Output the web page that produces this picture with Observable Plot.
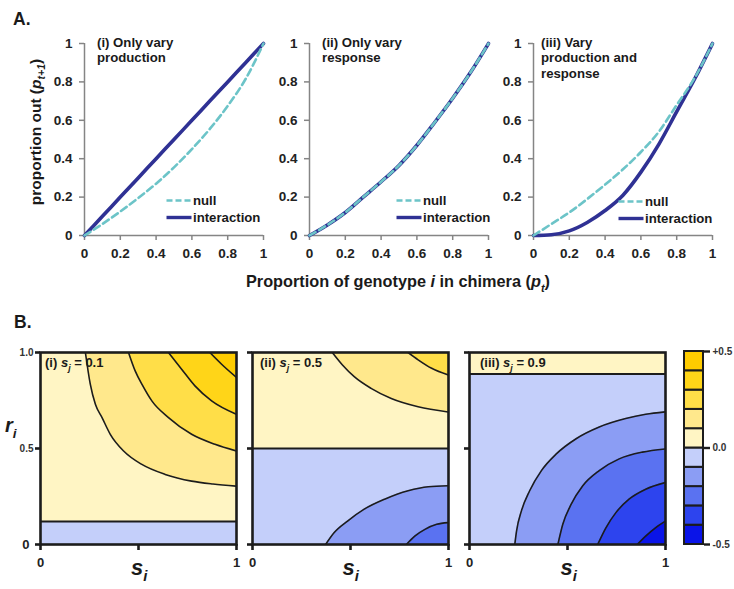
<!DOCTYPE html>
<html>
<head>
<meta charset="utf-8">
<script src="https://cdn.jsdelivr.net/npm/d3@7"></script>
<script src="https://cdn.jsdelivr.net/npm/@observablehq/plot@0.6"></script>
<style>
  body { margin: 0; background: #fff; }
  #fig { position: relative; width: 734px; height: 589px; overflow: hidden; background: #fff;
         font-family: "Liberation Sans", Arial, sans-serif; }
</style>
</head>
<body>
<div id="fig"></div>
<script>
// ---------- Panel A: proportion out vs. proportion in ----------
const pIn = [0, 0.1, 0.2, 0.3, 0.4, 0.5, 0.6, 0.7, 0.8, 0.9, 1];
const nullI = [0, 0.06, 0.125, 0.195, 0.27, 0.355, 0.45, 0.555, 0.675, 0.815, 1];
const interactionI = [0, 0.1, 0.2, 0.3, 0.4, 0.5, 0.6, 0.7, 0.8, 0.9, 1];
const nullII = [0, 0.055, 0.12, 0.2, 0.28, 0.365, 0.47, 0.59, 0.715, 0.85, 1];
const interactionII = [0, 0.055, 0.12, 0.2, 0.28, 0.365, 0.47, 0.59, 0.715, 0.85, 1];
const nullIII = [0, 0.06, 0.12, 0.19, 0.265, 0.345, 0.435, 0.54, 0.68, 0.82, 1];
const interactionIII = [0, 0.004, 0.024, 0.068, 0.13, 0.21, 0.33, 0.475, 0.645, 0.815, 1];
const aTicks = [0, 0.2, 0.4, 0.6, 0.8, 1];
const aTitles = [["(i) Only vary", "production"], ["(ii) Only vary", "response"], ["(iii) Vary", "production and", "response"]];
const legendLabels = ["null", "interaction"];

// ---------- Panel B: interaction effect over (s_i, r_i) ----------
const sjValues = ["0.1", "0.5", "0.9"];
const panelNumerals = ["(i) ", "(ii) ", "(iii) "];
const bTicks = [0, 0.5, 1];
const zeroI = 0.12, zeroII = 0.5, zeroIII = 0.888;
// contour lines as [s_i, r_i] points
const contourI_p1 = [[0.229,1],[0.254,0.835],[0.280,0.73],[0.314,0.661],[0.356,0.574],[0.424,0.487],[0.517,0.417],[0.636,0.365],[0.771,0.330],[0.88,0.315],[1,0.304]];
const contourI_p2 = [[0.449,1],[0.483,0.904],[0.520,0.830],[0.568,0.748],[0.653,0.661],[0.771,0.574],[0.890,0.522],[1,0.487]];
const contourI_p3 = [[0.653,1],[0.720,0.913],[0.788,0.826],[0.873,0.748],[1,0.678]];
const contourI_p4 = [[0.864,1],[0.924,0.939],[1,0.87]];
const contourII_p1 = [[0.407,1],[0.459,0.935],[0.519,0.874],[0.605,0.813],[0.708,0.76],[0.845,0.717],[1,0.69]];
const contourII_p2 = [[0.794,1],[0.845,0.962],[0.914,0.918],[1,0.883]];
const contourII_m1 = [[0.373,0],[0.416,0.061],[0.485,0.122],[0.57,0.184],[0.674,0.236],[0.794,0.28],[0.897,0.301],[1,0.306]];
const contourII_m2 = [[0.785,0],[0.828,0.044],[0.88,0.079],[0.94,0.105],[1,0.114]];
const contourIII_m1 = [[0.231,0],[0.24,0.07],[0.265,0.175],[0.307,0.28],[0.367,0.385],[0.443,0.472],[0.544,0.551],[0.662,0.612],[0.797,0.656],[0.899,0.678],[1,0.691]];
const contourIII_m2 = [[0.451,0],[0.476,0.105],[0.519,0.21],[0.578,0.306],[0.662,0.385],[0.764,0.446],[0.882,0.481],[1,0.498]];
const contourIII_m3 = [[0.654,0],[0.696,0.087],[0.747,0.166],[0.814,0.236],[0.899,0.288],[1,0.323]];
const contourIII_m4 = [[0.856,0],[0.899,0.044],[0.949,0.087],[1,0.122]];

// colour levels (bands of 0.1 from -0.5 to +0.5)
const levelBreaks = [-0.5, -0.4, -0.3, -0.2, -0.1, 0, 0.1, 0.2, 0.3, 0.4, 0.5];
const levelThresholds = [-0.4, -0.3, -0.2, -0.1, 0, 0.1, 0.2, 0.3, 0.4];
const levelColors = ["#0a14e8", "#2d44ee", "#5a72f1", "#8b9df4", "#c4cffa",
                     "#fff5c4", "#ffe88c", "#ffde48", "#ffd518", "#ffcc00"];
const colorbarLabels = ["-0.5", "0.0", "+0.5"];

// ---------- layout ----------
const FONT = "'Liberation Sans', Arial, sans-serif";
const INTER = "#2f3194", NULLC = "#6cc4c8", AXISGRAY = "#858585", INK = "#1c1c1c";
const colorScale = {type: "threshold", domain: levelThresholds, range: levelColors};
const fig = document.getElementById("fig");
function place(node, left, top) {
  node.style.position = "absolute";
  node.style.left = left + "px";
  node.style.top = top + "px";
  fig.appendChild(node);
}
const baseStyle = {background: "transparent", overflow: "visible", fontFamily: FONT, fontWeight: "bold", color: "#222"};

function linePanel(nullVals, interVals) {
  const mL = 45, mR = 12, mT = 10, mB = 28, w = 179, h = 192;
  const rows = pIn.map((p, i) => ({p, nul: nullVals[i], inter: interVals[i]}));
  return Plot.plot({
    width: mL + w + mR, height: mT + h + mB,
    marginLeft: mL, marginRight: mR, marginTop: mT, marginBottom: mB,
    style: baseStyle,
    x: {domain: [0, 1]}, y: {domain: [0, 1]},
    marks: [
      Plot.axisX(aTicks, {tickSize: 5, tickPadding: 8, stroke: AXISGRAY, strokeWidth: 1.5, fontSize: 13.5, fontWeight: "bold", tickFormat: d => String(d), label: null}),
      Plot.axisY(aTicks, {tickSize: 5, tickPadding: 7, stroke: AXISGRAY, strokeWidth: 1.5, fontSize: 13.5, fontWeight: "bold", tickFormat: d => String(d), label: null}),
      Plot.ruleX([0], {stroke: AXISGRAY, strokeWidth: 1.5}),
      Plot.ruleY([0], {stroke: AXISGRAY, strokeWidth: 1.5}),
      Plot.line(rows, {x: "p", y: "inter", stroke: INTER, strokeWidth: 3.6, curve: "monotone-x"}),
      Plot.line(rows, {x: "p", y: "nul", stroke: NULLC, strokeWidth: 2.6, strokeDasharray: "7,4", curve: "monotone-x"})
    ]
  });
}

const aLefts = [84, 309, 533];
const aSeries = [[nullI, interactionI], [nullII, interactionII], [nullIII, interactionIII]];
aSeries.forEach(([n, it], i) => place(linePanel(n, it), aLefts[i] - 45, 43 - 10));

function contourPanel(p, showLabels) {
  const mL = 30, mR = 8, mT = 8, mB = 30, w = 196, h = 192;
  const sDomain = [0, 1], rDomain = [0, 1];
  const bands = [
    {x1: sDomain[0], x2: sDomain[1], y1: rDomain[0], y2: p.zero, v: -0.05},
    {x1: sDomain[0], x2: sDomain[1], y1: p.zero, y2: rDomain[1], v: 0.05}
  ];
  const marks = [Plot.rect(bands, {x1: "x1", x2: "x2", y1: "y1", y2: "y2", fill: "v"})];
  for (const [pts, level] of p.above)
    marks.push(Plot.areaY(pts, {x: d => d[0], y1: d => d[1], y2: rDomain[1], fill: () => level + 0.05, curve: "monotone-x", clip: true}));
  for (const [pts, level] of p.below)
    marks.push(Plot.areaY(pts, {x: d => d[0], y1: rDomain[0], y2: d => d[1], fill: () => level - 0.05, curve: "monotone-x", clip: true}));
  for (const [pts] of [...p.above, ...p.below])
    marks.push(Plot.line(pts, {x: d => d[0], y: d => d[1], stroke: INK, strokeWidth: 1.6, curve: "monotone-x", clip: true}));
  marks.push(Plot.ruleY([p.zero], {stroke: INK, strokeWidth: 2}));
  marks.push(Plot.frame({stroke: INK, strokeWidth: 2.6}));
  marks.push(Plot.axisX(bTicks, {tickSize: 6, tickPadding: 7, stroke: INK, strokeWidth: 2.6, fontSize: 13, fontWeight: "bold", fill: "#222",
    tickFormat: d => d === 0.5 ? "" : String(d), label: null}));
  if (showLabels) {
    marks.push(Plot.axisY([0.5, 1], {tickSize: 5, tickPadding: 2, stroke: INK, strokeWidth: 2.6, fontSize: 10, fontWeight: "bold", fill: "#333",
      tickFormat: d => d.toFixed(1), label: null}));
    marks.push(Plot.axisY([0], {tickSize: 5, tickPadding: 6, stroke: INK, strokeWidth: 2.6, fontSize: 13, fontWeight: "bold", fill: "#222",
      tickFormat: d => String(d), label: null}));
  } else {
    marks.push(Plot.axisY(bTicks, {tickSize: 5, stroke: INK, strokeWidth: 2.6, tickFormat: () => "", label: null}));
  }
  return Plot.plot({
    width: mL + w + mR, height: mT + h + mB,
    marginLeft: mL, marginRight: mR, marginTop: mT, marginBottom: mB,
    style: baseStyle,
    x: {domain: sDomain}, y: {domain: rDomain},
    color: colorScale,
    marks
  });
}

const bPanels = [
  {zero: zeroI, above: [[contourI_p1, 0.1], [contourI_p2, 0.2], [contourI_p3, 0.3], [contourI_p4, 0.4]], below: []},
  {zero: zeroII, above: [[contourII_p1, 0.1], [contourII_p2, 0.2]], below: [[contourII_m1, -0.1], [contourII_m2, -0.2]]},
  {zero: zeroIII, above: [], below: [[contourIII_m1, -0.1], [contourIII_m2, -0.2], [contourIII_m3, -0.3], [contourIII_m4, -0.4]]}
];
const bLefts = [40, 252, 469];
bPanels.forEach((p, i) => place(contourPanel(p, i === 0), bLefts[i] - 30, 352 - 8));

// colour bar
(function () {
  const mL = 4, mR = 30, mT = 8, mB = 8;
  const cells = levelBreaks.slice(0, -1).map((lo, i) => ({lo, hi: levelBreaks[i + 1], mid: (lo + levelBreaks[i + 1]) / 2}));
  const bar = Plot.plot({
    width: mL + 19 + mR, height: mT + 193 + mB,
    marginLeft: mL, marginRight: mR, marginTop: mT, marginBottom: mB,
    style: baseStyle,
    x: {domain: [0, 1], axis: null}, y: {domain: [-0.5, 0.5]},
    color: colorScale,
    marks: [
      Plot.rect(cells, {x1: 0, x2: 1, y1: "lo", y2: "hi", fill: "mid", stroke: INK, strokeWidth: 2}),
      Plot.axisY([-0.5, 0, 0.5], {anchor: "right", tickSize: 6, tickPadding: 3, stroke: INK, strokeWidth: 2.4, fontSize: 10, fontWeight: "bold", fill: "#333",
        tickFormat: (d, i) => colorbarLabels[i], label: null})
    ]
  });
  place(bar, 684 - mL, 351 - mT);
})();

// ---------- text layer ----------
const overlay = d3.create("svg").attr("width", 734).attr("height", 589)
  .attr("font-family", FONT).style("position", "absolute").style("left", "0px").style("top", "0px")
  .style("pointer-events", "none");

function richText(x, y, segs, opt = {}) {
  const size = opt.size || 13;
  const t = overlay.append("text").attr("x", x).attr("y", y)
    .attr("font-size", size).attr("font-weight", "bold").attr("fill", opt.fill || "#1a1a1a")
    .attr("text-anchor", opt.anchor || "start");
  if (opt.transform) t.attr("transform", opt.transform);
  let shift = 0;
  for (const s of segs) {
    const ts = t.append("tspan").text(s.t);
    const want = s.sub ? size * 0.28 : 0;
    if (want !== shift) { ts.attr("dy", want - shift); shift = want; }
    if (s.sub) ts.attr("font-size", size * 0.68);
    if (s.it) ts.attr("font-style", "italic");
  }
  return t;
}

richText(13, 25, [{t: "A."}], {size: 17.5});
richText(14, 328, [{t: "B."}], {size: 17.5});

richText(0, 0, [{t: "proportion out ("}, {t: "p", it: true}, {t: "t+1", it: true, sub: true}, {t: ")"}],
  {size: 15.5, anchor: "middle", transform: "translate(41,132) rotate(-90)"});
richText(398, 287, [{t: "Proportion of genotype "}, {t: "i", it: true}, {t: " in chimera ("}, {t: "p", it: true}, {t: "t", it: true, sub: true}, {t: ")"}],
  {size: 16.3, anchor: "middle"});

const titleX = [97, 322, 541];
aTitles.forEach((lines, i) => lines.forEach((ln, j) => richText(titleX[i], 47 + j * 15.3, [{t: ln}], {size: 13.2})));

const legendX = [166.5, 396.5, 618.5];
const legendY = [[200.5, 217.5], [200.5, 217.5], [201.5, 218.5]];
legendX.forEach((lx, i) => {
  overlay.append("line").attr("x1", lx).attr("x2", lx + 25).attr("y1", legendY[i][0]).attr("y2", legendY[i][0])
    .attr("stroke", NULLC).attr("stroke-width", 2.6).attr("stroke-dasharray", "6,3");
  overlay.append("line").attr("x1", lx).attr("x2", lx + 25).attr("y1", legendY[i][1]).attr("y2", legendY[i][1])
    .attr("stroke", INTER).attr("stroke-width", 3.4);
  legendLabels.forEach((lab, j) => richText(lx + 26.5, legendY[i][j] + 4.5, [{t: lab}], {size: 13.2}));
});

const bTitleX = [45, 260, 480];
sjValues.forEach((v, i) => richText(bTitleX[i], 367, [{t: panelNumerals[i]}, {t: "s", it: true}, {t: "j", it: true, sub: true}, {t: " = " + v}], {size: 13}));

const bCenters = [138, 349.5, 567.5];
bCenters.forEach(c => richText(c - 7, 575, [{t: "s", it: true}, {t: "i", it: true, sub: true}], {size: 22}));
richText(5, 432, [{t: "r", it: true}, {t: "i", it: true, sub: true}], {size: 20});

fig.appendChild(overlay.node());
</script>
</body>
</html>
